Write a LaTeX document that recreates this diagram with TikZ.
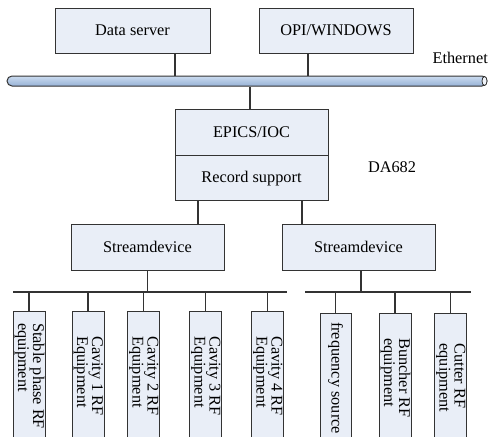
\documentclass[tikz,border=0pt]{standalone}
\usepackage{fontspec}
\setmainfont{Liberation Serif}
\definecolor{boxfill}{HTML}{E9EEF7}
\definecolor{linegray}{HTML}{333333}
\definecolor{barlight}{HTML}{CCDCF0}
\definecolor{bardark}{HTML}{97B2D6}
\newcommand{\twolines}[2]{\begin{tabular}{@{}l@{}}#1\\[-2pt]#2\end{tabular}}
\begin{document}
\begin{tikzpicture}[x=1pt,y=-1pt,
  box/.style={draw=linegray, fill=boxfill, line width=0.7pt, inner sep=0pt, font=\fontsize{16.3}{18}\selectfont},
  wire/.style={draw=linegray, line width=1.1pt},
  leaf/.style={box, rotate=-90, minimum width=130pt, minimum height=31pt, font=\fontsize{16.3}{17}\selectfont},
  plain/.style={inner sep=0pt, font=\fontsize{16.3}{18}\selectfont},
  bar/.style={draw=linegray, line width=1pt, top color=barlight, bottom color=bardark, rounded corners=5pt, minimum width=480pt, minimum height=10pt, inner sep=0pt}
]
\useasboundingbox (0,0) rectangle (489,436);

% top servers
\node[box, minimum width=155pt, minimum height=45pt] (ds) at (132.5,30.5) {Data server};
\node[box, minimum width=154pt, minimum height=45pt] (opi) at (336,30.5) {OPI/WINDOWS};

% ethernet bar
\node[bar] (eth) at (247,81) {};
\draw[draw=linegray, line width=0.8pt, fill=white!70!barlight] ([xshift=-3pt]eth.east) ellipse [x radius=2.5pt, y radius=4.5pt];
\node[plain, anchor=east] (ethl) at (488,58) {Ethernet};

\draw[wire] ([xshift=42.5pt]ds.south) -- ([xshift=42.5pt]ds.south |- eth.north);
\draw[wire] ([xshift=-28pt]opi.south) -- ([xshift=-28pt]opi.south |- eth.north);

% IOC
\node[box, minimum width=153pt, minimum height=46pt] (epics) at (251.5,132) {EPICS/IOC};
\node[box, minimum width=153pt, minimum height=45pt, anchor=north] (rec) at (epics.south) {Record support};
\node[plain] (da) at (392,167) {DA682};
\draw[wire] ([xshift=-1.5pt]epics.north) -- ([xshift=-1.5pt]epics.north |- eth.south);

% streamdevices
\node[box, minimum width=153pt, minimum height=46pt] (sd1) at (147.5,247) {Streamdevice};
\node[box, minimum width=153pt, minimum height=46pt] (sd2) at (358.5,247) {Streamdevice};
\draw[wire] ([xshift=-53.5pt]rec.south) -- ([xshift=-53.5pt]rec.south |- sd1.north);
\draw[wire] ([xshift=50.5pt]rec.south) -- ([xshift=50.5pt]rec.south |- sd2.north);

% buses
\coordinate (b1l) at (13,292);
\coordinate (b1r) at (287,292);
\coordinate (b2l) at (305,292);
\coordinate (b2r) at (471,292);
\draw[wire] (b1l) -- (b1r);
\draw[wire] (b2l) -- (b2r);
\draw[wire] (sd1.south) -- (sd1.south |- b1l);
\draw[wire] ([xshift=2.5pt]sd2.south) -- ([xshift=2.5pt]sd2.south |- b2l);

% leaves
\begin{scope}
\clip (0,0) rectangle (489,436);
\node[leaf] (l1) at (29,376) {\twolines{Stable phase RF}{equipment}};
\node[leaf] (l2) at (88,376) {\twolines{Cavity 1 RF}{Equipment}};
\node[leaf] (l3) at (143.5,376) {\twolines{Cavity 2 RF}{Equipment}};
\node[leaf] (l4) at (205.5,376) {\twolines{Cavity 3 RF}{Equipment}};
\node[leaf] (l5) at (267.5,376) {\twolines{Cavity 4 RF}{Equipment}};
\node[leaf] (r1) at (335.5,378) {frequency source};
\node[leaf] (r2) at (395,378) {\twolines{Buncher RF}{equipment}};
\node[leaf] (r3) at (450.5,378) {\twolines{Cutter RF}{equipment}};
\end{scope}

\foreach \n in {l1,l2,l3,l4,l5}{
  \draw[wire] (\n.west) -- (\n.west |- b1l);
}
\foreach \n in {r1,r2,r3}{
  \draw[wire] (\n.west) -- (\n.west |- b2l);
}
\end{tikzpicture}
\end{document}
